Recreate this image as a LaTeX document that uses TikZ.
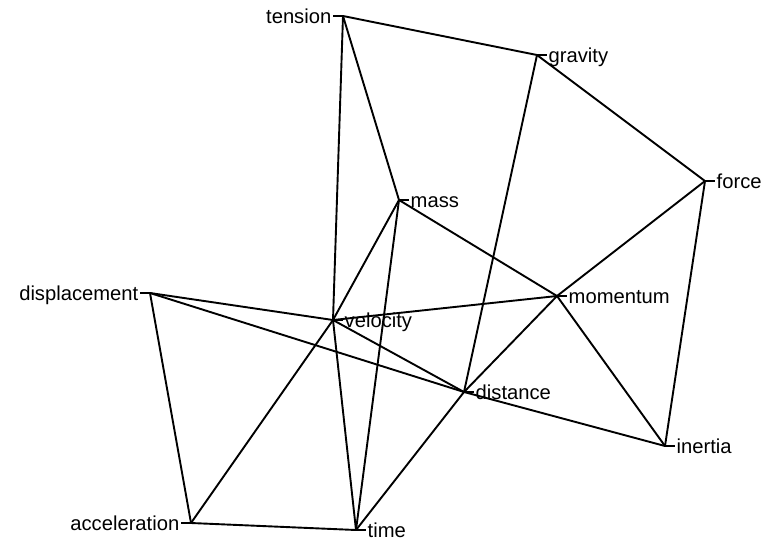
\documentclass[tikz,border=0pt]{standalone}
\usepackage{fontspec}
\setmainfont{Liberation Sans}
\usetikzlibrary{calc}
\tikzset{
  edge/.style={draw=black, line width=1.9pt},
  tick/.style={draw=black, line width=1.9pt},
  lblR/.style={anchor=base west, inner sep=0pt, font=\fontsize{20.2}{21}\selectfont},
  lblL/.style={anchor=base east, inner sep=0pt, font=\fontsize{20.2}{21}\selectfont}
}
\begin{document}
\begin{tikzpicture}[x=1pt,y=-1pt]
\path[use as bounding box] (0,0) rectangle (771,542);
% points
\coordinate (tension) at (343,16);
\coordinate (gravity) at (537,55);
\coordinate (force) at (705,181);
\coordinate (mass) at (399,200);
\coordinate (displacement) at (150,293);
\coordinate (momentum) at (557,296);
\coordinate (velocity) at (333,320);
\coordinate (distance) at (464,392);
\coordinate (inertia) at (665,446);
\coordinate (acceleration) at (191,523);
\coordinate (time) at (356,530);
% edges
\foreach \a/\b in {tension/gravity, tension/mass, tension/velocity,
  gravity/force, gravity/distance, force/momentum, force/inertia,
  mass/momentum, mass/velocity, mass/time,
  displacement/velocity, displacement/distance, displacement/acceleration,
  momentum/velocity, momentum/distance, momentum/inertia,
  velocity/distance, velocity/acceleration, velocity/time,
  distance/inertia, distance/time, acceleration/time}
  \draw[edge] (\a) -- (\b);
% ticks and labels (right side)
\foreach \p in {gravity, force, mass, momentum, velocity, distance, inertia, time} {
  \draw[tick] (\p) -- ++(10,0);
  \node[lblR] (\p-label) at ($(\p)+(11.5,7)$) {\p};
}
% ticks and labels (left side)
\foreach \p in {tension, displacement, acceleration} {
  \draw[tick] (\p) -- ++(-10,0);
  \node[lblL] (\p-label) at ($(\p)+(-11.5,7)$) {\p};
}
\end{tikzpicture}
\end{document}
